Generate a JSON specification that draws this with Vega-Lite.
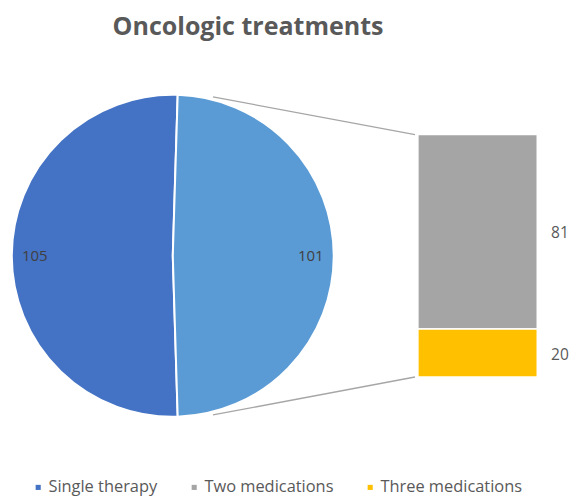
{
  "$schema": "https://vega.github.io/schema/vega-lite/v6.json",
  "width": 574,
  "height": 384,
  "autosize": {"type": "none"},
  "padding": {"top": 65, "left": 0, "right": 0, "bottom": 47},
  "background": "white",
  "config": {
    "view": {"stroke": null},
    "font": "Open Sans"
  },
  "title": {
    "text": "Oncologic treatments",
    "font": "Open Sans",
    "fontSize": 25,
    "fontWeight": "bold",
    "color": "#595959",
    "anchor": "middle",
    "dx": -39,
    "offset": 25
  },
  "data": {
    "values": [
      {"treatment": "Single therapy", "count": 105, "part": "pie"},
      {"treatment": "Other", "count": 101, "part": "pie"},
      {"treatment": "Two medications", "count": 81, "part": "bar"},
      {"treatment": "Three medications", "count": 20, "part": "bar"}
    ]
  },
  "layer": [
    {
      "transform": [{"filter": "datum.treatment === 'Other'"}],
      "mark": {"type": "rule", "color": "#a6a6a6", "strokeWidth": 1.3},
      "encoding": {
        "x": {"datum": 37.1, "type": "quantitative", "scale": {"domain": [0, 100], "nice": false, "zero": false}, "axis": null},
        "y": {"datum": 116.7, "type": "quantitative", "scale": {"domain": [-30, 130], "nice": false, "zero": false}, "axis": null},
        "x2": {"datum": 72.3},
        "y2": {"datum": 101}
      }
    },
    {
      "transform": [{"filter": "datum.treatment === 'Other'"}],
      "mark": {"type": "rule", "color": "#a6a6a6", "strokeWidth": 1.3},
      "encoding": {
        "x": {"datum": 37.1, "type": "quantitative", "scale": {"domain": [0, 100], "nice": false, "zero": false}, "axis": null},
        "y": {"datum": -15.8, "type": "quantitative", "scale": {"domain": [-30, 130], "nice": false, "zero": false}, "axis": null},
        "x2": {"datum": 72.3},
        "y2": {"datum": 0}
      }
    },
    {
      "transform": [{"filter": "datum.part === 'pie'"}],
      "mark": {"type": "arc", "outerRadius": 161, "stroke": "white", "strokeWidth": 2},
      "encoding": {
        "x": {"datum": 30.1, "type": "quantitative", "scale": {"domain": [0, 100], "nice": false, "zero": false}, "axis": null},
        "y": {"datum": 50.5, "type": "quantitative", "scale": {"domain": [-30, 130], "nice": false, "zero": false}, "axis": null},
        "theta": {"field": "count", "type": "quantitative", "stack": true, "scale": {"range": [0.0305, 6.3137]}},
        "order": {"field": "treatment", "type": "ordinal", "sort": "ascending"},
        "color": {
          "field": "treatment",
          "type": "nominal",
          "scale": {
            "domain": ["Single therapy", "Two medications", "Three medications", "Other"],
            "range": ["#4472C4", "#A5A5A5", "#FFC000", "#5B9BD5"]
          },
          "legend": {
            "values": ["Single therapy", "Two medications", "Three medications"],
            "title": null,
            "orient": "none",
            "direction": "horizontal",
            "legendX": 30,
            "legendY": 414,
            "symbolType": "square",
            "symbolSize": 26,
            "symbolStrokeWidth": 0,
            "labelFont": "Open Sans",
            "labelFontSize": 16.4,
            "labelColor": "#595959",
            "labelOffset": 2,
            "columnPadding": 28
          }
        }
      }
    },
    {
      "transform": [{"filter": "datum.part === 'pie'"}],
      "mark": {"type": "text", "radius": 138, "fontSize": 15, "color": "#404040", "font": "Open Sans"},
      "encoding": {
        "x": {"datum": 30.1, "type": "quantitative", "scale": {"domain": [0, 100], "nice": false, "zero": false}, "axis": null},
        "y": {"datum": 50.5, "type": "quantitative", "scale": {"domain": [-30, 130], "nice": false, "zero": false}, "axis": null},
        "theta": {"field": "count", "type": "quantitative", "stack": true},
        "order": {"field": "treatment", "type": "ordinal", "sort": "ascending"},
        "detail": {"field": "treatment", "type": "nominal"},
        "text": {"field": "count", "type": "quantitative"}
      }
    },
    {
      "transform": [
        {"filter": "datum.part === 'bar'"},
        {"stack": "count", "groupby": [], "sort": [{"field": "treatment", "order": "ascending"}], "as": ["lo", "hi"]}
      ],
      "mark": {"type": "rect", "stroke": "white", "strokeWidth": 1.5},
      "encoding": {
        "x": {"datum": 72.8, "type": "quantitative", "scale": {"domain": [0, 100], "nice": false, "zero": false}, "axis": null},
        "x2": {"datum": 93.6},
        "y": {"field": "lo", "type": "quantitative", "scale": {"domain": [-30, 130], "nice": false, "zero": false}, "axis": null},
        "y2": {"field": "hi"},
        "color": {"field": "treatment", "type": "nominal"}
      }
    },
    {
      "transform": [
        {"filter": "datum.part === 'bar'"},
        {"stack": "count", "groupby": [], "sort": [{"field": "treatment", "order": "ascending"}], "as": ["lo", "hi"]},
        {"calculate": "(datum.lo + datum.hi) / 2", "as": "mid"}
      ],
      "mark": {"type": "text", "align": "left", "fontSize": 15.5, "color": "#595959", "font": "Open Sans", "dy": 1.5},
      "encoding": {
        "x": {"datum": 96.0, "type": "quantitative", "scale": {"domain": [0, 100], "nice": false, "zero": false}, "axis": null},
        "y": {"field": "mid", "type": "quantitative", "scale": {"domain": [-30, 130], "nice": false, "zero": false}, "axis": null},
        "text": {"field": "count", "type": "quantitative"}
      }
    }
  ]
}
